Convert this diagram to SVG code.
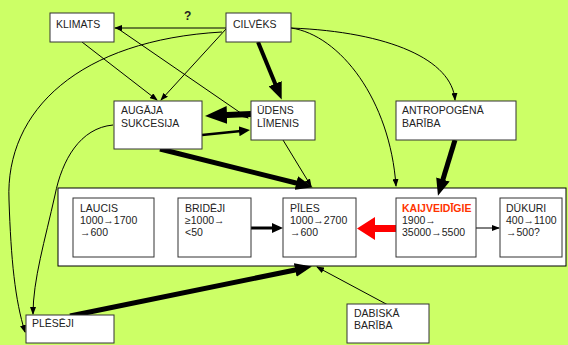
<svg xmlns="http://www.w3.org/2000/svg" width="568" height="345" viewBox="0 0 568 345">
<defs>
<style>
.box{fill:#fff;stroke:#333;stroke-width:1}
.t{font-family:"Liberation Sans",Arial,sans-serif;font-size:10.5px;fill:#222}
.c{fill:none;stroke:#000}
.s{stroke-width:1}
.m{stroke-width:2.5}
.l{stroke-width:5}
</style>
<marker id="aS" markerUnits="userSpaceOnUse" markerWidth="8" markerHeight="6" refX="7" refY="3" orient="auto"><path d="M0,0 L8,3 L0,6 z" fill="#000"/></marker>
<marker id="aM" markerUnits="userSpaceOnUse" markerWidth="12" markerHeight="12" refX="7" refY="6" orient="auto"><path d="M0,1 L11,6 L0,11 z" fill="#000"/></marker>
<marker id="aL" markerUnits="userSpaceOnUse" markerWidth="18" markerHeight="14" refX="10" refY="7" orient="auto"><path d="M0,0 L17,7 L0,14 z" fill="#000"/></marker>
<marker id="aXL" markerUnits="userSpaceOnUse" markerWidth="23" markerHeight="18" refX="12" refY="9" orient="auto"><path d="M0,0 L22,9 L0,18 z" fill="#000"/></marker>
</defs>
<rect x="0" y="0" width="568" height="345" fill="#CCFF66"/>
<rect id="container" x="58" y="188" width="508" height="78" fill="#fff" stroke="#000" stroke-width="1"/>
<g id="connectors">
<path class="c s" d="M226,28 L115,28" marker-end="url(#aS)"/>
<path class="c s" d="M82,42 L157,100" marker-end="url(#aS)"/>
<path class="c s" d="M226,29 L161,100" marker-end="url(#aS)"/>
<path class="c s" d="M117,28 L248,118" marker-end="url(#aS)"/>
<path class="c" stroke-width="4" d="M258,42 L279,93" marker-end="url(#aL)"/>
<path class="c" stroke-width="6" d="M251,114 L215,115.5" marker-end="url(#aXL)"/>
<path class="c m" d="M202,135 L246,130.5" marker-end="url(#aM)"/>
<path class="c l" d="M160,149 L306,185.5" marker-end="url(#aL)"/>
<path class="c s" d="M283,140 L311,186" marker-end="url(#aS)"/>
<path class="c s" d="M291,28 C340,35 390,100 396,186" marker-end="url(#aS)"/>
<path class="c s" d="M291,28 C390,32 452,60 455,100" marker-end="url(#aS)"/>
<path class="c l" d="M455,140 L440,189" marker-end="url(#aL)"/>
<path class="c s" d="M476,228 L499,228" marker-end="url(#aS)"/>
<path class="c" stroke-width="3" d="M251,228 L279,228" marker-end="url(#aM)"/>
<path class="c l" d="M70,316 L305,268" marker-end="url(#aL)"/>
<path class="c s" d="M388,305 L317,267" marker-end="url(#aS)"/>
<path class="c s" d="M222,32 C80,40 5,110 9,200 C11,260 15,300 25,332" marker-end="url(#aS)"/>
<path class="c s" d="M113,125 C80,128 62,160 55,195 C45,240 33,280 33,314" marker-end="url(#aS)"/>
<polygon points="396,225 375,225 375,217 357,228.5 375,240 375,232 396,232" fill="#FF0000"/>
<text x="184" y="20" font-family="Liberation Sans,Arial,sans-serif" font-size="12" font-weight="bold" fill="#222">?</text>
</g>
<g id="klimats"><rect class="box" x="50" y="13" width="64" height="29"/><text class="t" x="56" y="28">KLIMATS</text></g>
<g id="cilveks"><rect class="box" x="226" y="13" width="65" height="29"/><text class="t" x="233" y="28">CILVĒKS</text></g>
<g id="augaja"><rect class="box" x="114" y="101" width="88" height="48"/><text class="t" x="121" y="114">AUGĀJA</text><text class="t" x="121" y="127">SUKCESIJA</text></g>
<g id="udens"><rect class="box" x="251" y="101" width="64" height="39"/><text class="t" x="257" y="114">ŪDENS</text><text class="t" x="257" y="127">LĪMENIS</text></g>
<g id="antropogena"><rect class="box" x="396" y="101" width="120" height="39"/><text class="t" x="402" y="114">ANTROPOGĒNĀ</text><text class="t" x="402" y="127">BARĪBA</text></g>
<g id="laucis"><rect class="box" x="73" y="198" width="81" height="59"/><text class="t" x="80" y="212">LAUCIS</text><text class="t" x="80" y="224">1000→1700</text><text class="t" x="80" y="236">→600</text></g>
<g id="brideji"><rect class="box" x="178" y="198" width="73" height="59"/><text class="t" x="185" y="212">BRIDĒJI</text><text class="t" x="185" y="224">≥1000→</text><text class="t" x="185" y="236">&lt;50</text></g>
<g id="piles"><rect class="box" x="283" y="198" width="73" height="59"/><text class="t" x="290" y="212">PĪLES</text><text class="t" x="290" y="224">1000→2700</text><text class="t" x="290" y="236">→600</text></g>
<g id="kaijveidigie"><rect class="box" x="396" y="198" width="80" height="59"/><text class="t" x="402" y="212" font-weight="bold" style="fill:#FF3300">KAIJVEIDĪGIE</text><text class="t" x="402" y="224">1900→</text><text class="t" x="402" y="236">35000→5500</text></g>
<g id="dukuri"><rect class="box" x="500" y="198" width="62" height="59"/><text class="t" x="506" y="212">DŪKURI</text><text class="t" x="506" y="224">400→1100</text><text class="t" x="506" y="236">→500?</text></g>
<g id="plesejI"><rect class="box" x="26" y="315" width="88" height="28"/><text class="t" x="32" y="327">PLĒSĒJI</text></g>
<g id="dabiska"><rect class="box" x="347" y="304" width="82" height="39"/><text class="t" x="354" y="317">DABISKĀ</text><text class="t" x="354" y="329">BARĪBA</text></g>
</svg>
